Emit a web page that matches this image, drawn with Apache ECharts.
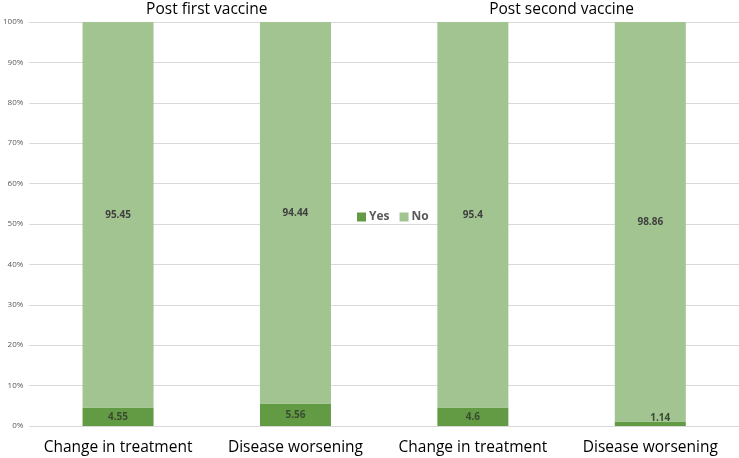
<!DOCTYPE html>
<html>
<head>
<meta charset="utf-8">
<script src="https://cdn.jsdelivr.net/npm/echarts@6/dist/echarts.min.js"></script>
<style>
  html, body { margin: 0; padding: 0; background: #fff; }
  #chart { width: 739px; height: 458px; }
</style>
</head>
<body>
<div id="chart"></div>
<script>
const categories = ["Change in treatment", "Disease worsening", "Change in treatment", "Disease worsening"];
const groups = ["Post first vaccine", "Post second vaccine"];
const yesValues = [4.55, 5.56, 4.6, 1.14];
const noValues = [95.45, 94.44, 95.4, 98.86];

const font = "'Open Sans', 'Liberation Sans', sans-serif";
const myChart = echarts.init(document.getElementById("chart"));

myChart.setOption({
  animation: false,
  textStyle: { fontFamily: font },
  grid: {
    top: 22,
    left: 27.5,
    right: 0,
    bottom: 32,
    containLabel: false
  },
  legend: {
    data: ["Yes", "No"],
    left: 352,
    top: 206,
    itemWidth: 9,
    itemHeight: 9,
    itemGap: 10,
    icon: "rect",
    textStyle: { fontSize: 12, fontWeight: "bold", color: "#595959", padding: [0, 0, 0, -2] }
  },
  xAxis: [
    {
      type: "category",
      data: categories,
      position: "bottom",
      axisLine: { show: false },
      axisTick: { show: false },
      axisLabel: { fontSize: 15.5, color: "#000", margin: 14, interval: 0 }
    },
    {
      type: "category",
      data: groups,
      position: "top",
      axisLine: { show: false },
      axisTick: { show: false },
      axisLabel: { fontSize: 15.5, color: "#000", margin: 4 }
    }
  ],
  yAxis: {
    type: "value",
    min: 0,
    max: 100,
    interval: 10,
    axisLine: { show: false },
    axisTick: { show: false },
    axisLabel: { formatter: "{value}%", fontSize: 8, color: "#595959", margin: 6 },
    splitLine: { lineStyle: { color: "#d9d9d9", width: 1 } }
  },
  series: [
    {
      name: "Yes",
      type: "bar",
      stack: "total",
      barWidth: 71,
      data: yesValues,
      itemStyle: { color: "#629b43" },
      label: {
        show: true,
        position: "inside",
        fontSize: 10,
        fontWeight: "bold",
        color: "#3b4a33",
        formatter: p => p.value
      },
      labelLayout: p => (p.rect.height < 8 ? { y: p.rect.y - 8 } : {})
    },
    {
      name: "No",
      type: "bar",
      stack: "total",
      barWidth: 71,
      data: noValues,
      itemStyle: { color: "#a1c490" },
      label: {
        show: true,
        position: "inside",
        fontSize: 10,
        fontWeight: "bold",
        color: "#404040",
        formatter: p => p.value
      }
    }
  ]
});
</script>
</body>
</html>
